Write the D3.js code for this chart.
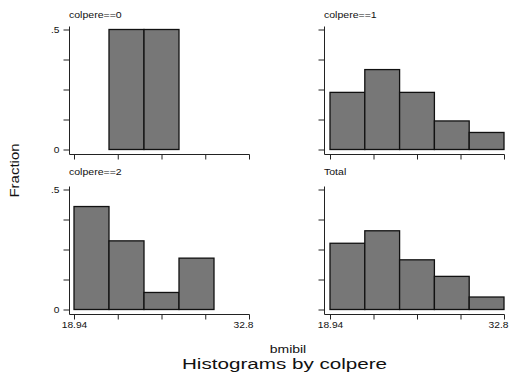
<!DOCTYPE html>
<html>
<head>
<meta charset="utf-8">
<script src="https://cdn.jsdelivr.net/npm/d3@7"></script>
<style>
  body { margin: 0; background: #fff; }
  svg { display: block; font-family: "Liberation Sans", Arial, sans-serif; }
</style>
</head>
<body>
<svg width="509" height="376"></svg>
<script>
// bins of bmibil (5 equal bins between min and max)
var binEdges = [18.94, 21.712, 24.484, 27.256, 30.028, 32.8];
var xTickValues = [18.94, 22.405, 25.87, 29.335, 32.8];
var xTickLabels = ["18.94", "", "", "", "32.8"];
var yTickValues = [0, 0.125, 0.25, 0.375, 0.5];
var yTickLabels = ["0", "", "", "", ".5"];

var panelTitles = ["colpere==0", "colpere==1", "colpere==2", "Total"];
var colpere0 = [0, 0.5, 0.5, 0, 0];
var colpere1 = [0.238, 0.333, 0.238, 0.119, 0.071];
var colpere2 = [0.429, 0.286, 0.071, 0.214, 0];
var total = [0.276, 0.328, 0.207, 0.138, 0.052];
var panelValues = [colpere0, colpere1, colpere2, total];

var svg = d3.select("svg");

// layout of the 2x2 grid
var cols = [
  { axisX: 69.5, x0: 74, x1: 249 },
  { axisX: 324.5, x0: 330, x1: 504 }
];
var rows = [
  { y0: 149.5, y1: 29.5, axisY: 154.5, titleY: 17.5 },
  { y0: 309.5, y1: 189.5, axisY: 314.5, titleY: 174.5 }
];

function stretchText(sel, k) {
  sel.each(function() {
    var w = this.getComputedTextLength();
    if (w > 0) {
      d3.select(this)
        .attr("textLength", w * k)
        .attr("lengthAdjust", "spacingAndGlyphs");
    }
  });
}

panelTitles.forEach(function(title, i) {
  var c = cols[i % 2], r = rows[Math.floor(i / 2)];
  var values = panelValues[i];

  var x = d3.scaleLinear().domain([binEdges[0], binEdges[5]]).range([c.x0, c.x1]);
  var y = d3.scaleLinear().domain([0, 0.5]).range([r.y0, r.y1]);

  var g = svg.append("g");

  var bins = values.map(function(v, j) {
    return { lo: binEdges[j], hi: binEdges[j + 1], v: v };
  }).filter(function(d) { return d.v > 0; });

  g.selectAll("rect")
    .data(bins)
    .enter().append("rect")
    .attr("x", function(d) { return x(d.lo); })
    .attr("y", function(d) { return y(d.v); })
    .attr("width", function(d) { return x(d.hi) - x(d.lo); })
    .attr("height", function(d) { return y(0) - y(d.v); })
    .attr("fill", "#777777")
    .attr("stroke", "#111")
    .attr("stroke-width", 1.3);

  // y axis
  var yAxis = d3.axisLeft(y)
    .tickValues(yTickValues)
    .tickSize(6)
    .tickPadding(4)
    .tickFormat(function(d, k) { return c.axisX < 100 ? yTickLabels[k] : ""; });
  var ga = g.append("g").attr("transform", "translate(" + c.axisX + ",0)").call(yAxis);
  ga.select(".domain").remove();
  ga.selectAll("line").attr("stroke", "#222");
  ga.selectAll("text").attr("font-size", 8.5).attr("fill", "#111")
    .attr("font-family", "Liberation Sans, Arial, sans-serif").call(stretchText, 1.2);
  g.append("line")
    .attr("x1", c.axisX).attr("x2", c.axisX)
    .attr("y1", y(0.5) - 3).attr("y2", r.axisY)
    .attr("stroke", "#222");

  // x axis
  var xAxis = d3.axisBottom(x)
    .tickValues(xTickValues)
    .tickSize(5)
    .tickPadding(2)
    .tickFormat(function(d, k) { return r.titleY > 100 ? xTickLabels[k] : ""; });
  var gx = g.append("g").attr("transform", "translate(0," + r.axisY + ")").call(xAxis);
  gx.select(".domain").remove();
  gx.selectAll("line").attr("stroke", "#222");
  gx.selectAll("text").attr("font-size", 8.5).attr("fill", "#111")
    .attr("font-family", "Liberation Sans, Arial, sans-serif")
    .attr("dx", function(d, k) { return k === xTickValues.length - 1 ? -6 : 0; })
    .call(stretchText, 1.2);
  g.append("line")
    .attr("x1", c.axisX).attr("x2", c.x1 + 0.5)
    .attr("y1", r.axisY).attr("y2", r.axisY)
    .attr("stroke", "#222");

  // panel title
  g.append("text")
    .attr("x", c.axisX - 0.5)
    .attr("y", r.titleY)
    .attr("font-size", 9)
    .attr("fill", "#111")
    .text(title)
    .call(stretchText, 1.17);
});

// shared labels
svg.append("text")
  .attr("transform", "translate(19,170.5) rotate(-90)")
  .attr("text-anchor", "middle")
  .attr("font-size", 12)
  .attr("fill", "#111")
  .text("Fraction")
  .call(stretchText, 1.25);

svg.append("text")
  .attr("x", 288)
  .attr("y", 353)
  .attr("text-anchor", "middle")
  .attr("font-size", 10.5)
  .attr("fill", "#111")
  .text("bmibil")
  .call(stretchText, 1.33);

svg.append("text")
  .attr("x", 284.5)
  .attr("y", 369)
  .attr("text-anchor", "middle")
  .attr("font-size", 15.5)
  .attr("fill", "#111")
  .text("Histograms by colpere")
  .call(stretchText, 1.33);
</script>
</body>
</html>
